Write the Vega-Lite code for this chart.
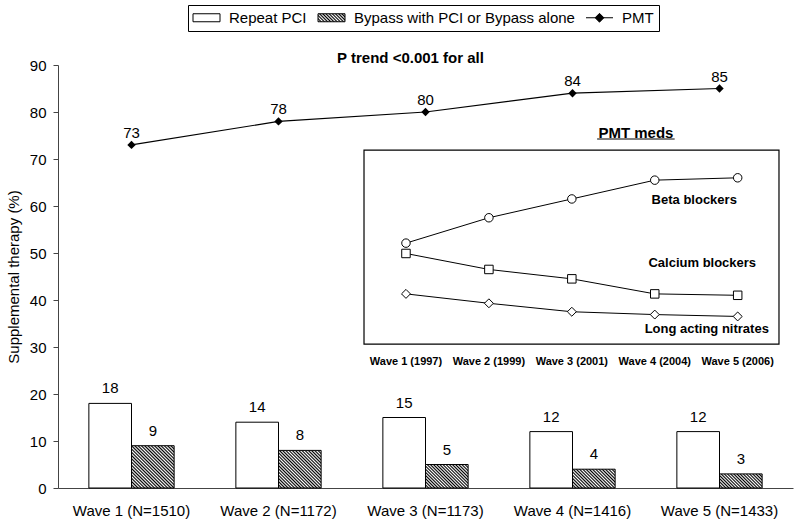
{
"$schema": "https://vega.github.io/schema/vega-lite/v6.json",
"width": 735, "height": 423,
"autosize": {"type": "none"},
"padding": {"left": 58, "top": 65, "right": 7, "bottom": 37},
"background": "white",
"config": {"font": "Liberation Sans", "view": {"stroke": null}, "text": {"font": "Liberation Sans", "color": "black"}},
"datasets": {
 "bars": [
  {"wave": "Wave 1 (N=1510)", "series": "Repeat PCI", "value": 18},
  {"wave": "Wave 1 (N=1510)", "series": "Bypass with PCI or Bypass alone", "value": 9},
  {"wave": "Wave 2 (N=1172)", "series": "Repeat PCI", "value": 14},
  {"wave": "Wave 2 (N=1172)", "series": "Bypass with PCI or Bypass alone", "value": 8},
  {"wave": "Wave 3 (N=1173)", "series": "Repeat PCI", "value": 15},
  {"wave": "Wave 3 (N=1173)", "series": "Bypass with PCI or Bypass alone", "value": 5},
  {"wave": "Wave 4 (N=1416)", "series": "Repeat PCI", "value": 12},
  {"wave": "Wave 4 (N=1416)", "series": "Bypass with PCI or Bypass alone", "value": 4},
  {"wave": "Wave 5 (N=1433)", "series": "Repeat PCI", "value": 12},
  {"wave": "Wave 5 (N=1433)", "series": "Bypass with PCI or Bypass alone", "value": 3}
 ],
 "pmt": [
  {"wave": "Wave 1 (N=1510)", "pmt": 73},
  {"wave": "Wave 2 (N=1172)", "pmt": 78},
  {"wave": "Wave 3 (N=1173)", "pmt": 80},
  {"wave": "Wave 4 (N=1416)", "pmt": 84},
  {"wave": "Wave 5 (N=1433)", "pmt": 85}
 ],
 "meds": [
  {"med": "Beta blockers", "wave": 1, "pct": 52.1},
  {"med": "Beta blockers", "wave": 2, "pct": 57.5},
  {"med": "Beta blockers", "wave": 3, "pct": 61.5},
  {"med": "Beta blockers", "wave": 4, "pct": 65.5},
  {"med": "Beta blockers", "wave": 5, "pct": 66.0},
  {"med": "Calcium blockers", "wave": 1, "pct": 49.9},
  {"med": "Calcium blockers", "wave": 2, "pct": 46.5},
  {"med": "Calcium blockers", "wave": 3, "pct": 44.5},
  {"med": "Calcium blockers", "wave": 4, "pct": 41.3},
  {"med": "Calcium blockers", "wave": 5, "pct": 41.0},
  {"med": "Long acting nitrates", "wave": 1, "pct": 41.3},
  {"med": "Long acting nitrates", "wave": 2, "pct": 39.3},
  {"med": "Long acting nitrates", "wave": 3, "pct": 37.5},
  {"med": "Long acting nitrates", "wave": 4, "pct": 36.9},
  {"med": "Long acting nitrates", "wave": 5, "pct": 36.5}
 ],
 "insetx": [
  {"wave": 1, "label": "Wave 1 (1997)"},
  {"wave": 2, "label": "Wave 2 (1999)"},
  {"wave": 3, "label": "Wave 3 (2001)"},
  {"wave": 4, "label": "Wave 4 (2004)"},
  {"wave": 5, "label": "Wave 5 (2006)"}
 ]
},
"layer": [
 {"layer": [
  {"data": {"name": "bars"},
   "mark": {"type": "bar", "stroke": "black", "strokeWidth": 1},
   "encoding": {
    "x": {"field": "wave", "type": "nominal", "sort": null,
          "scale": {"paddingInner": 0.42, "paddingOuter": 0.21},
          "axis": {"title": null, "ticks": false, "labelAngle": 0, "labelFontSize": 15, "labelPadding": 15, "labelColor": "black", "domainColor": "#444", "labelFont": "Liberation Sans"}},
    "xOffset": {"field": "series", "type": "nominal", "sort": null, "scale": {"domain": ["Repeat PCI", "Bypass with PCI or Bypass alone"]}},
    "y": {"field": "value", "type": "quantitative", "scale": {"domain": [0, 90], "nice": false},
          "axis": {"values": [0, 10, 20, 30, 40, 50, 60, 70, 80, 90], "grid": false, "title": "Supplemental therapy (%)",
                   "titleFontSize": 15, "titleFontWeight": "normal", "titleFont": "Liberation Sans", "titleColor": "black",
                   "labelFontSize": 15, "labelFont": "Liberation Sans", "labelColor": "black", "tickSize": 5, "labelPadding": 7, "titlePadding": 8,
                   "domainColor": "#444", "tickColor": "#444"}},
    "fill": {
     "condition": [
      {"test": "datum.series !== 'Repeat PCI' && datum.value === 9", "value": {"gradient": "linear", "x1": 0, "y1": 1, "x2": 1, "y2": 0, "stops": [{"offset":0,"color":"#000"},{"offset":0.0192,"color":"#fff"},{"offset":0.0385,"color":"#000"},{"offset":0.0577,"color":"#fff"},{"offset":0.0769,"color":"#000"},{"offset":0.0962,"color":"#fff"},{"offset":0.1154,"color":"#000"},{"offset":0.1346,"color":"#fff"},{"offset":0.1538,"color":"#000"},{"offset":0.1731,"color":"#fff"},{"offset":0.1923,"color":"#000"},{"offset":0.2115,"color":"#fff"},{"offset":0.2308,"color":"#000"},{"offset":0.25,"color":"#fff"},{"offset":0.2692,"color":"#000"},{"offset":0.2885,"color":"#fff"},{"offset":0.3077,"color":"#000"},{"offset":0.3269,"color":"#fff"},{"offset":0.3462,"color":"#000"},{"offset":0.3654,"color":"#fff"},{"offset":0.3846,"color":"#000"},{"offset":0.4038,"color":"#fff"},{"offset":0.4231,"color":"#000"},{"offset":0.4423,"color":"#fff"},{"offset":0.4615,"color":"#000"},{"offset":0.4808,"color":"#fff"},{"offset":0.5,"color":"#000"},{"offset":0.5192,"color":"#fff"},{"offset":0.5385,"color":"#000"},{"offset":0.5577,"color":"#fff"},{"offset":0.5769,"color":"#000"},{"offset":0.5962,"color":"#fff"},{"offset":0.6154,"color":"#000"},{"offset":0.6346,"color":"#fff"},{"offset":0.6538,"color":"#000"},{"offset":0.6731,"color":"#fff"},{"offset":0.6923,"color":"#000"},{"offset":0.7115,"color":"#fff"},{"offset":0.7308,"color":"#000"},{"offset":0.75,"color":"#fff"},{"offset":0.7692,"color":"#000"},{"offset":0.7885,"color":"#fff"},{"offset":0.8077,"color":"#000"},{"offset":0.8269,"color":"#fff"},{"offset":0.8462,"color":"#000"},{"offset":0.8654,"color":"#fff"},{"offset":0.8846,"color":"#000"},{"offset":0.9038,"color":"#fff"},{"offset":0.9231,"color":"#000"},{"offset":0.9423,"color":"#fff"},{"offset":0.9615,"color":"#000"},{"offset":0.9808,"color":"#fff"},{"offset":1,"color":"#000"}]}},
      {"test": "datum.series !== 'Repeat PCI' && datum.value === 8", "value": {"gradient": "linear", "x1": 0, "y1": 1, "x2": 1.057, "y2": 0.065, "stops": [{"offset":0,"color":"#000"},{"offset":0.02,"color":"#fff"},{"offset":0.04,"color":"#000"},{"offset":0.06,"color":"#fff"},{"offset":0.08,"color":"#000"},{"offset":0.1,"color":"#fff"},{"offset":0.12,"color":"#000"},{"offset":0.14,"color":"#fff"},{"offset":0.16,"color":"#000"},{"offset":0.18,"color":"#fff"},{"offset":0.2,"color":"#000"},{"offset":0.22,"color":"#fff"},{"offset":0.24,"color":"#000"},{"offset":0.26,"color":"#fff"},{"offset":0.28,"color":"#000"},{"offset":0.3,"color":"#fff"},{"offset":0.32,"color":"#000"},{"offset":0.34,"color":"#fff"},{"offset":0.36,"color":"#000"},{"offset":0.38,"color":"#fff"},{"offset":0.4,"color":"#000"},{"offset":0.42,"color":"#fff"},{"offset":0.44,"color":"#000"},{"offset":0.46,"color":"#fff"},{"offset":0.48,"color":"#000"},{"offset":0.5,"color":"#fff"},{"offset":0.52,"color":"#000"},{"offset":0.54,"color":"#fff"},{"offset":0.56,"color":"#000"},{"offset":0.58,"color":"#fff"},{"offset":0.6,"color":"#000"},{"offset":0.62,"color":"#fff"},{"offset":0.64,"color":"#000"},{"offset":0.66,"color":"#fff"},{"offset":0.68,"color":"#000"},{"offset":0.7,"color":"#fff"},{"offset":0.72,"color":"#000"},{"offset":0.74,"color":"#fff"},{"offset":0.76,"color":"#000"},{"offset":0.78,"color":"#fff"},{"offset":0.8,"color":"#000"},{"offset":0.82,"color":"#fff"},{"offset":0.84,"color":"#000"},{"offset":0.86,"color":"#fff"},{"offset":0.88,"color":"#000"},{"offset":0.9,"color":"#fff"},{"offset":0.92,"color":"#000"},{"offset":0.94,"color":"#fff"},{"offset":0.96,"color":"#000"},{"offset":0.98,"color":"#fff"},{"offset":1,"color":"#000"}]}},
      {"test": "datum.series !== 'Repeat PCI' && datum.value === 5", "value": {"gradient": "linear", "x1": 0, "y1": 1, "x2": 1.189, "y2": 0.342, "stops": [{"offset":0,"color":"#000"},{"offset":0.0238,"color":"#fff"},{"offset":0.0476,"color":"#000"},{"offset":0.0714,"color":"#fff"},{"offset":0.0952,"color":"#000"},{"offset":0.119,"color":"#fff"},{"offset":0.1429,"color":"#000"},{"offset":0.1667,"color":"#fff"},{"offset":0.1905,"color":"#000"},{"offset":0.2143,"color":"#fff"},{"offset":0.2381,"color":"#000"},{"offset":0.2619,"color":"#fff"},{"offset":0.2857,"color":"#000"},{"offset":0.3095,"color":"#fff"},{"offset":0.3333,"color":"#000"},{"offset":0.3571,"color":"#fff"},{"offset":0.381,"color":"#000"},{"offset":0.4048,"color":"#fff"},{"offset":0.4286,"color":"#000"},{"offset":0.4524,"color":"#fff"},{"offset":0.4762,"color":"#000"},{"offset":0.5,"color":"#fff"},{"offset":0.5238,"color":"#000"},{"offset":0.5476,"color":"#fff"},{"offset":0.5714,"color":"#000"},{"offset":0.5952,"color":"#fff"},{"offset":0.619,"color":"#000"},{"offset":0.6429,"color":"#fff"},{"offset":0.6667,"color":"#000"},{"offset":0.6905,"color":"#fff"},{"offset":0.7143,"color":"#000"},{"offset":0.7381,"color":"#fff"},{"offset":0.7619,"color":"#000"},{"offset":0.7857,"color":"#fff"},{"offset":0.8095,"color":"#000"},{"offset":0.8333,"color":"#fff"},{"offset":0.8571,"color":"#000"},{"offset":0.881,"color":"#fff"},{"offset":0.9048,"color":"#000"},{"offset":0.9286,"color":"#fff"},{"offset":0.9524,"color":"#000"},{"offset":0.9762,"color":"#fff"},{"offset":1,"color":"#000"}]}},
      {"test": "datum.series !== 'Repeat PCI' && datum.value === 4", "value": {"gradient": "linear", "x1": 0, "y1": 1, "x2": 1.206, "y2": 0.466, "stops": [{"offset":0,"color":"#000"},{"offset":0.0263,"color":"#fff"},{"offset":0.0526,"color":"#000"},{"offset":0.0789,"color":"#fff"},{"offset":0.1053,"color":"#000"},{"offset":0.1316,"color":"#fff"},{"offset":0.1579,"color":"#000"},{"offset":0.1842,"color":"#fff"},{"offset":0.2105,"color":"#000"},{"offset":0.2368,"color":"#fff"},{"offset":0.2632,"color":"#000"},{"offset":0.2895,"color":"#fff"},{"offset":0.3158,"color":"#000"},{"offset":0.3421,"color":"#fff"},{"offset":0.3684,"color":"#000"},{"offset":0.3947,"color":"#fff"},{"offset":0.4211,"color":"#000"},{"offset":0.4474,"color":"#fff"},{"offset":0.4737,"color":"#000"},{"offset":0.5,"color":"#fff"},{"offset":0.5263,"color":"#000"},{"offset":0.5526,"color":"#fff"},{"offset":0.5789,"color":"#000"},{"offset":0.6053,"color":"#fff"},{"offset":0.6316,"color":"#000"},{"offset":0.6579,"color":"#fff"},{"offset":0.6842,"color":"#000"},{"offset":0.7105,"color":"#fff"},{"offset":0.7368,"color":"#000"},{"offset":0.7632,"color":"#fff"},{"offset":0.7895,"color":"#000"},{"offset":0.8158,"color":"#fff"},{"offset":0.8421,"color":"#000"},{"offset":0.8684,"color":"#fff"},{"offset":0.8947,"color":"#000"},{"offset":0.9211,"color":"#fff"},{"offset":0.9474,"color":"#000"},{"offset":0.9737,"color":"#fff"},{"offset":1,"color":"#000"}]}},
      {"test": "datum.series !== 'Repeat PCI' && datum.value === 3", "value": {"gradient": "linear", "x1": 0, "y1": 1, "x2": 1.2, "y2": 0.602, "stops": [{"offset":0,"color":"#000"},{"offset":0.0278,"color":"#fff"},{"offset":0.0556,"color":"#000"},{"offset":0.0833,"color":"#fff"},{"offset":0.1111,"color":"#000"},{"offset":0.1389,"color":"#fff"},{"offset":0.1667,"color":"#000"},{"offset":0.1944,"color":"#fff"},{"offset":0.2222,"color":"#000"},{"offset":0.25,"color":"#fff"},{"offset":0.2778,"color":"#000"},{"offset":0.3056,"color":"#fff"},{"offset":0.3333,"color":"#000"},{"offset":0.3611,"color":"#fff"},{"offset":0.3889,"color":"#000"},{"offset":0.4167,"color":"#fff"},{"offset":0.4444,"color":"#000"},{"offset":0.4722,"color":"#fff"},{"offset":0.5,"color":"#000"},{"offset":0.5278,"color":"#fff"},{"offset":0.5556,"color":"#000"},{"offset":0.5833,"color":"#fff"},{"offset":0.6111,"color":"#000"},{"offset":0.6389,"color":"#fff"},{"offset":0.6667,"color":"#000"},{"offset":0.6944,"color":"#fff"},{"offset":0.7222,"color":"#000"},{"offset":0.75,"color":"#fff"},{"offset":0.7778,"color":"#000"},{"offset":0.8056,"color":"#fff"},{"offset":0.8333,"color":"#000"},{"offset":0.8611,"color":"#fff"},{"offset":0.8889,"color":"#000"},{"offset":0.9167,"color":"#fff"},{"offset":0.9444,"color":"#000"},{"offset":0.9722,"color":"#fff"},{"offset":1,"color":"#000"}]}}
     ],
     "value": "white"
    }
   }},
  {"data": {"name": "bars"},
   "mark": {"type": "point", "opacity": 0, "size": 1},
   "encoding": {
    "x": {"field": "wave", "type": "nominal", "sort": null},
    "y": {"field": "value", "type": "quantitative", "scale": {"domain": [0, 90], "nice": false}},
    "fill": {"field": "series", "type": "nominal",
     "scale": {"domain": ["Repeat PCI", "Bypass with PCI or Bypass alone", "PMT"],
               "range": ["white", {"expr": "{gradient:'linear',x1:0,y1:1,x2:1.192,y2:0.647,stops:[{offset:0,color:'#000'},{offset:0.0455,color:'#fff'},{offset:0.0909,color:'#000'},{offset:0.1364,color:'#fff'},{offset:0.1818,color:'#000'},{offset:0.2273,color:'#fff'},{offset:0.2727,color:'#000'},{offset:0.3182,color:'#fff'},{offset:0.3636,color:'#000'},{offset:0.4091,color:'#fff'},{offset:0.4545,color:'#000'},{offset:0.5,color:'#fff'},{offset:0.5455,color:'#000'},{offset:0.5909,color:'#fff'},{offset:0.6364,color:'#000'},{offset:0.6818,color:'#fff'},{offset:0.7273,color:'#000'},{offset:0.7727,color:'#fff'},{offset:0.8182,color:'#000'},{offset:0.8636,color:'#fff'},{offset:0.9091,color:'#000'},{offset:0.9545,color:'#fff'},{offset:1,color:'#000'}]}"}, "black"]},
     "legend": {"orient": "none", "legendX": 130, "legendY": -60, "direction": "horizontal", "title": null,
      "strokeColor": "black", "fillColor": "white", "padding": 5,
      "labelFont": "Liberation Sans", "labelFontSize": 15, "labelColor": "black", "labelLimit": 400,
      "symbolSize": 64, "symbolOffset": 6, "labelOffset": 15, "columnPadding": 9, "symbolOpacity": 1,
      "symbolStrokeColor": "black", "symbolStrokeWidth": 1}},
    "stroke": {"field": "series", "type": "nominal",
     "scale": {"domain": ["Repeat PCI", "Bypass with PCI or Bypass alone", "PMT"], "range": ["black", "black", "black"]},
     "legend": {"orient": "none", "legendX": 130, "legendY": -60, "direction": "horizontal", "title": null,
      "strokeColor": "black", "fillColor": "white", "padding": 5,
      "labelFont": "Liberation Sans", "labelFontSize": 15, "labelColor": "black", "labelLimit": 400,
      "symbolSize": 64, "symbolOffset": 6, "labelOffset": 15, "columnPadding": 9, "symbolOpacity": 1,
      "symbolStrokeColor": "black", "symbolStrokeWidth": 1}},
    "shape": {"field": "series", "type": "nominal",
     "scale": {"domain": ["Repeat PCI", "Bypass with PCI or Bypass alone", "PMT"],
               "range": ["M-3.375,-1H3.375V1H-3.375Z", "M-3.375,-1H3.375V1H-3.375Z", "M-3.375,0H3.375M0,-1.1L1.1,0L0,1.1L-1.1,0Z"]},
     "legend": {"orient": "none", "legendX": 130, "legendY": -60, "direction": "horizontal", "title": null,
      "strokeColor": "black", "fillColor": "white", "padding": 5,
      "labelFont": "Liberation Sans", "labelFontSize": 15, "labelColor": "black", "labelLimit": 400,
      "symbolSize": 64, "symbolOffset": 6, "labelOffset": 15, "columnPadding": 9, "symbolOpacity": 1,
      "symbolStrokeColor": "black", "symbolStrokeWidth": 1}}
   }},
  {"data": {"name": "bars"},
   "mark": {"type": "text", "fontSize": 15, "baseline": "alphabetic", "dy": -10},
   "encoding": {
    "x": {"field": "wave", "type": "nominal", "sort": null},
    "xOffset": {"field": "series", "type": "nominal", "sort": null, "scale": {"domain": ["Repeat PCI", "Bypass with PCI or Bypass alone"]}},
    "y": {"field": "value", "type": "quantitative", "scale": {"domain": [0, 90], "nice": false}},
    "text": {"field": "value", "type": "quantitative"}
   }},
  {"data": {"name": "pmt"},
   "mark": {"type": "line", "color": "black", "strokeWidth": 1.2},
   "encoding": {
    "x": {"field": "wave", "type": "nominal", "sort": null},
    "y": {"field": "pmt", "type": "quantitative", "scale": {"domain": [0, 90], "nice": false}}
   }},
  {"data": {"name": "pmt"},
   "mark": {"type": "point", "shape": "diamond", "filled": true, "color": "black", "size": 70, "opacity": 1},
   "encoding": {
    "x": {"field": "wave", "type": "nominal", "sort": null},
    "y": {"field": "pmt", "type": "quantitative", "scale": {"domain": [0, 90], "nice": false}}
   }},
  {"data": {"name": "pmt"},
   "mark": {"type": "text", "fontSize": 15, "baseline": "alphabetic", "dy": -7},
   "encoding": {
    "x": {"field": "wave", "type": "nominal", "sort": null},
    "y": {"field": "pmt", "type": "quantitative", "scale": {"domain": [0, 90], "nice": false}},
    "text": {"field": "pmt", "type": "quantitative"}
   }},
  {"data": {"values": [{}]},
   "mark": {"type": "text", "text": "P trend <0.001 for all", "fontSize": 15, "fontWeight": "bold", "baseline": "alphabetic", "dx": -15},
   "encoding": {
    "x": {"datum": "Wave 3 (N=1173)", "type": "nominal"},
    "y": {"datum": 90.5, "type": "quantitative", "scale": {"domain": [0, 90], "nice": false}}
   }}
 ]},
 {"layer": [
  {"data": {"values": [{}]},
   "mark": {"type": "rect", "fill": "white", "stroke": "black", "strokeWidth": 1.2},
   "encoding": {
    "x": {"datum": 0.494, "type": "quantitative", "scale": {"domain": [-3.196, 5.667], "nice": false, "zero": false}, "axis": null},
    "x2": {"datum": 5.498},
    "y": {"datum": 71.9, "type": "quantitative", "scale": {"domain": [0, 90], "nice": false}},
    "y2": {"datum": 30.6}
   }},
  {"data": {"name": "meds"},
   "mark": {"type": "line", "color": "black", "strokeWidth": 1},
   "encoding": {
    "x": {"field": "wave", "type": "quantitative", "scale": {"domain": [-3.196, 5.667], "nice": false, "zero": false}, "axis": null},
    "y": {"field": "pct", "type": "quantitative", "scale": {"domain": [0, 90], "nice": false}},
    "detail": {"field": "med", "type": "nominal"}
   }},
  {"data": {"name": "meds"},
   "transform": [{"filter": "datum.med === 'Beta blockers'"}],
   "mark": {"type": "point", "shape": "circle", "filled": true, "fill": "white", "stroke": "black", "strokeWidth": 1, "size": 72, "opacity": 1},
   "encoding": {
    "x": {"field": "wave", "type": "quantitative", "scale": {"domain": [-3.196, 5.667], "nice": false, "zero": false}, "axis": null},
    "y": {"field": "pct", "type": "quantitative", "scale": {"domain": [0, 90], "nice": false}}
   }},
  {"data": {"name": "meds"},
   "transform": [{"filter": "datum.med === 'Calcium blockers'"}],
   "mark": {"type": "point", "shape": "square", "filled": true, "fill": "white", "stroke": "black", "strokeWidth": 1, "size": 72, "opacity": 1},
   "encoding": {
    "x": {"field": "wave", "type": "quantitative", "scale": {"domain": [-3.196, 5.667], "nice": false, "zero": false}, "axis": null},
    "y": {"field": "pct", "type": "quantitative", "scale": {"domain": [0, 90], "nice": false}}
   }},
  {"data": {"name": "meds"},
   "transform": [{"filter": "datum.med === 'Long acting nitrates'"}],
   "mark": {"type": "point", "shape": "diamond", "filled": true, "fill": "white", "stroke": "black", "strokeWidth": 1, "size": 80, "opacity": 1},
   "encoding": {
    "x": {"field": "wave", "type": "quantitative", "scale": {"domain": [-3.196, 5.667], "nice": false, "zero": false}, "axis": null},
    "y": {"field": "pct", "type": "quantitative", "scale": {"domain": [0, 90], "nice": false}}
   }},
  {"data": {"values": [{}]},
   "mark": {"type": "text", "text": "Beta blockers", "fontSize": 13, "fontWeight": "bold", "baseline": "alphabetic"},
   "encoding": {
    "x": {"datum": 4.476, "type": "quantitative", "scale": {"domain": [-3.196, 5.667], "nice": false, "zero": false}, "axis": null},
    "y": {"datum": 60.4, "type": "quantitative", "scale": {"domain": [0, 90], "nice": false}}
   }},
  {"data": {"values": [{}]},
   "mark": {"type": "text", "text": "Calcium blockers", "fontSize": 13, "fontWeight": "bold", "baseline": "alphabetic"},
   "encoding": {
    "x": {"datum": 4.573, "type": "quantitative", "scale": {"domain": [-3.196, 5.667], "nice": false, "zero": false}, "axis": null},
    "y": {"datum": 47.1, "type": "quantitative", "scale": {"domain": [0, 90], "nice": false}}
   }},
  {"data": {"values": [{}]},
   "mark": {"type": "text", "text": "Long acting nitrates", "fontSize": 13, "fontWeight": "bold", "baseline": "alphabetic"},
   "encoding": {
    "x": {"datum": 4.627, "type": "quantitative", "scale": {"domain": [-3.196, 5.667], "nice": false, "zero": false}, "axis": null},
    "y": {"datum": 33.0, "type": "quantitative", "scale": {"domain": [0, 90], "nice": false}}
   }},
  {"data": {"name": "insetx"},
   "mark": {"type": "text", "fontSize": 11, "fontWeight": "bold", "baseline": "alphabetic"},
   "encoding": {
    "x": {"field": "wave", "type": "quantitative", "scale": {"domain": [-3.196, 5.667], "nice": false, "zero": false}, "axis": null},
    "y": {"datum": 26.2, "type": "quantitative", "scale": {"domain": [0, 90], "nice": false}},
    "text": {"field": "label", "type": "nominal"}
   }},
  {"data": {"values": [{}]},
   "mark": {"type": "text", "text": "PMT meds", "fontSize": 15, "fontWeight": "bold", "baseline": "alphabetic"},
   "encoding": {
    "x": {"datum": 3.773, "type": "quantitative", "scale": {"domain": [-3.196, 5.667], "nice": false, "zero": false}, "axis": null},
    "y": {"datum": 74.57, "type": "quantitative", "scale": {"domain": [0, 90], "nice": false}}
   }},
  {"data": {"values": [{}]},
   "mark": {"type": "rule", "color": "black", "strokeWidth": 1.2},
   "encoding": {
    "x": {"datum": 3.305, "type": "quantitative", "scale": {"domain": [-3.196, 5.667], "nice": false, "zero": false}, "axis": null},
    "x2": {"datum": 4.24},
    "y": {"datum": 74.26, "type": "quantitative", "scale": {"domain": [0, 90], "nice": false}}
   }}
 ]}
],
"resolve": {"scale": {"x": "independent"}}
}
